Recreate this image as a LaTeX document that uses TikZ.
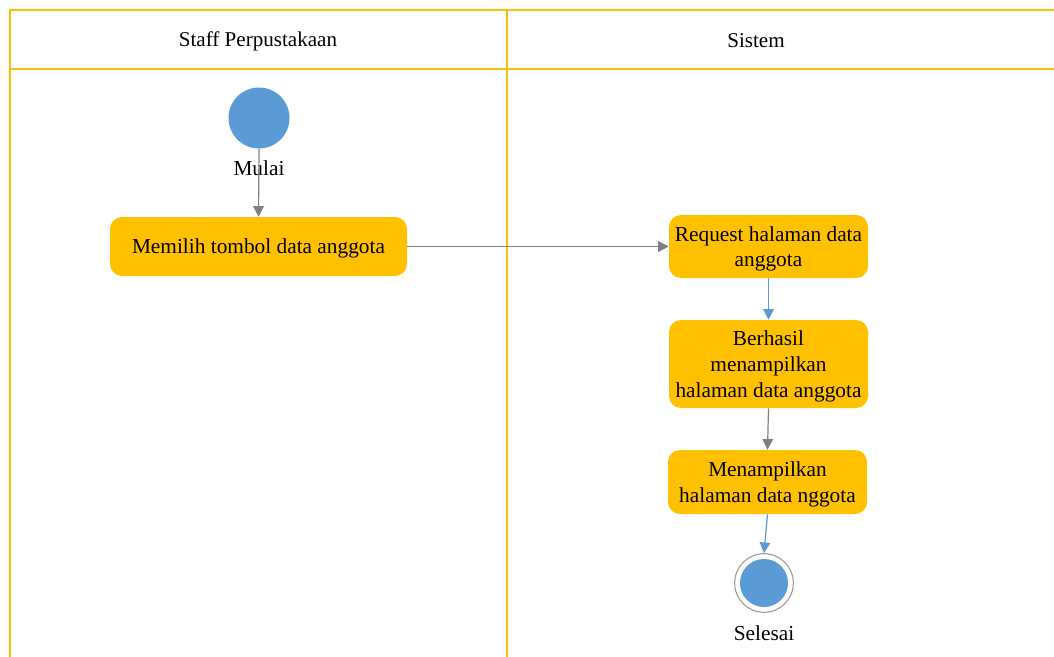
\documentclass[tikz,border=0pt]{standalone}
\usepackage{fontspec}
\setmainfont{Liberation Serif}
\usetikzlibrary{arrows.meta}
\definecolor{lane}{HTML}{FFC000}
\definecolor{act}{HTML}{FFC000}
\definecolor{dot}{HTML}{5B9BD5}
\definecolor{flowgray}{HTML}{7F7F7F}
\tikzset{
  actbox/.style={draw=none, fill=act, rounded corners=9pt, align=center,
    inner sep=2pt, text depth=0pt, font=\fontsize{16}{19.3}\selectfont},
  lanetitle/.style={font=\fontsize{15.8}{18}\selectfont},
  caption/.style={font=\fontsize{16}{18}\selectfont},
  grayflow/.style={draw=flowgray, line width=0.9pt, -{Triangle[length=8pt,width=8pt]}},
  blueflow/.style={draw=dot, line width=0.9pt, -{Triangle[length=8pt,width=8pt]}},
  laneline/.style={draw=lane, line width=1.6pt}
}
\begin{document}
\begin{tikzpicture}[x=0.75pt,y=-0.75pt]
\useasboundingbox (0,0) rectangle (1054,657);
% swimlane frame
\draw[laneline] (10,657) -- (10,10) -- (1054,10);
\draw[laneline] (10,69) -- (1054,69);
\draw[laneline] (507,10) -- (507,657);
\node[lanetitle] (laneA) at (258,41) {Staff Perpustakaan};
\node[lanetitle] (laneB) at (756,41) {Sistem};
% start
\node[circle, fill=dot, minimum size=45.75pt, inner sep=0pt] (start) at (259,118) {};
\node[caption] (startlbl) at (259,168) {Mulai};
% activities
\node[actbox, minimum width=222.75pt, minimum height=44.25pt] (a1) at (258.5,246.5) {Memilih tombol data anggota};
\node[actbox, minimum width=149.25pt, minimum height=47.25pt] (a2) at (768.5,246.5) {Request halaman data\\anggota};
\node[actbox, minimum width=149.25pt, minimum height=66pt] (a3) at (768.5,364) {Berhasil\\menampilkan\\halaman data anggota};
\node[actbox, minimum width=149.25pt, minimum height=48pt] (a4) at (767.5,482) {Menampilkan\\halaman data nggota};
% end
\node[circle, draw=flowgray!80, line width=0.8pt, minimum size=44pt, inner sep=0pt] (stop) at (764,583) {};
\node[circle, fill=dot, minimum size=36pt, inner sep=0pt] (stopdot) at (764,583) {};
\node[caption] (stoplbl) at (764,633) {Selesai};
% flows
\draw[grayflow] (start.south) -- (a1.north);
\draw[grayflow] (a1.east) -- (a2.west);
\draw[blueflow] (a2.south) -- (a3.north);
\draw[grayflow] (a3.south) -- (a4.north);
\draw[blueflow] (a4.south) -- (stop.north);
\end{tikzpicture}
\end{document}
